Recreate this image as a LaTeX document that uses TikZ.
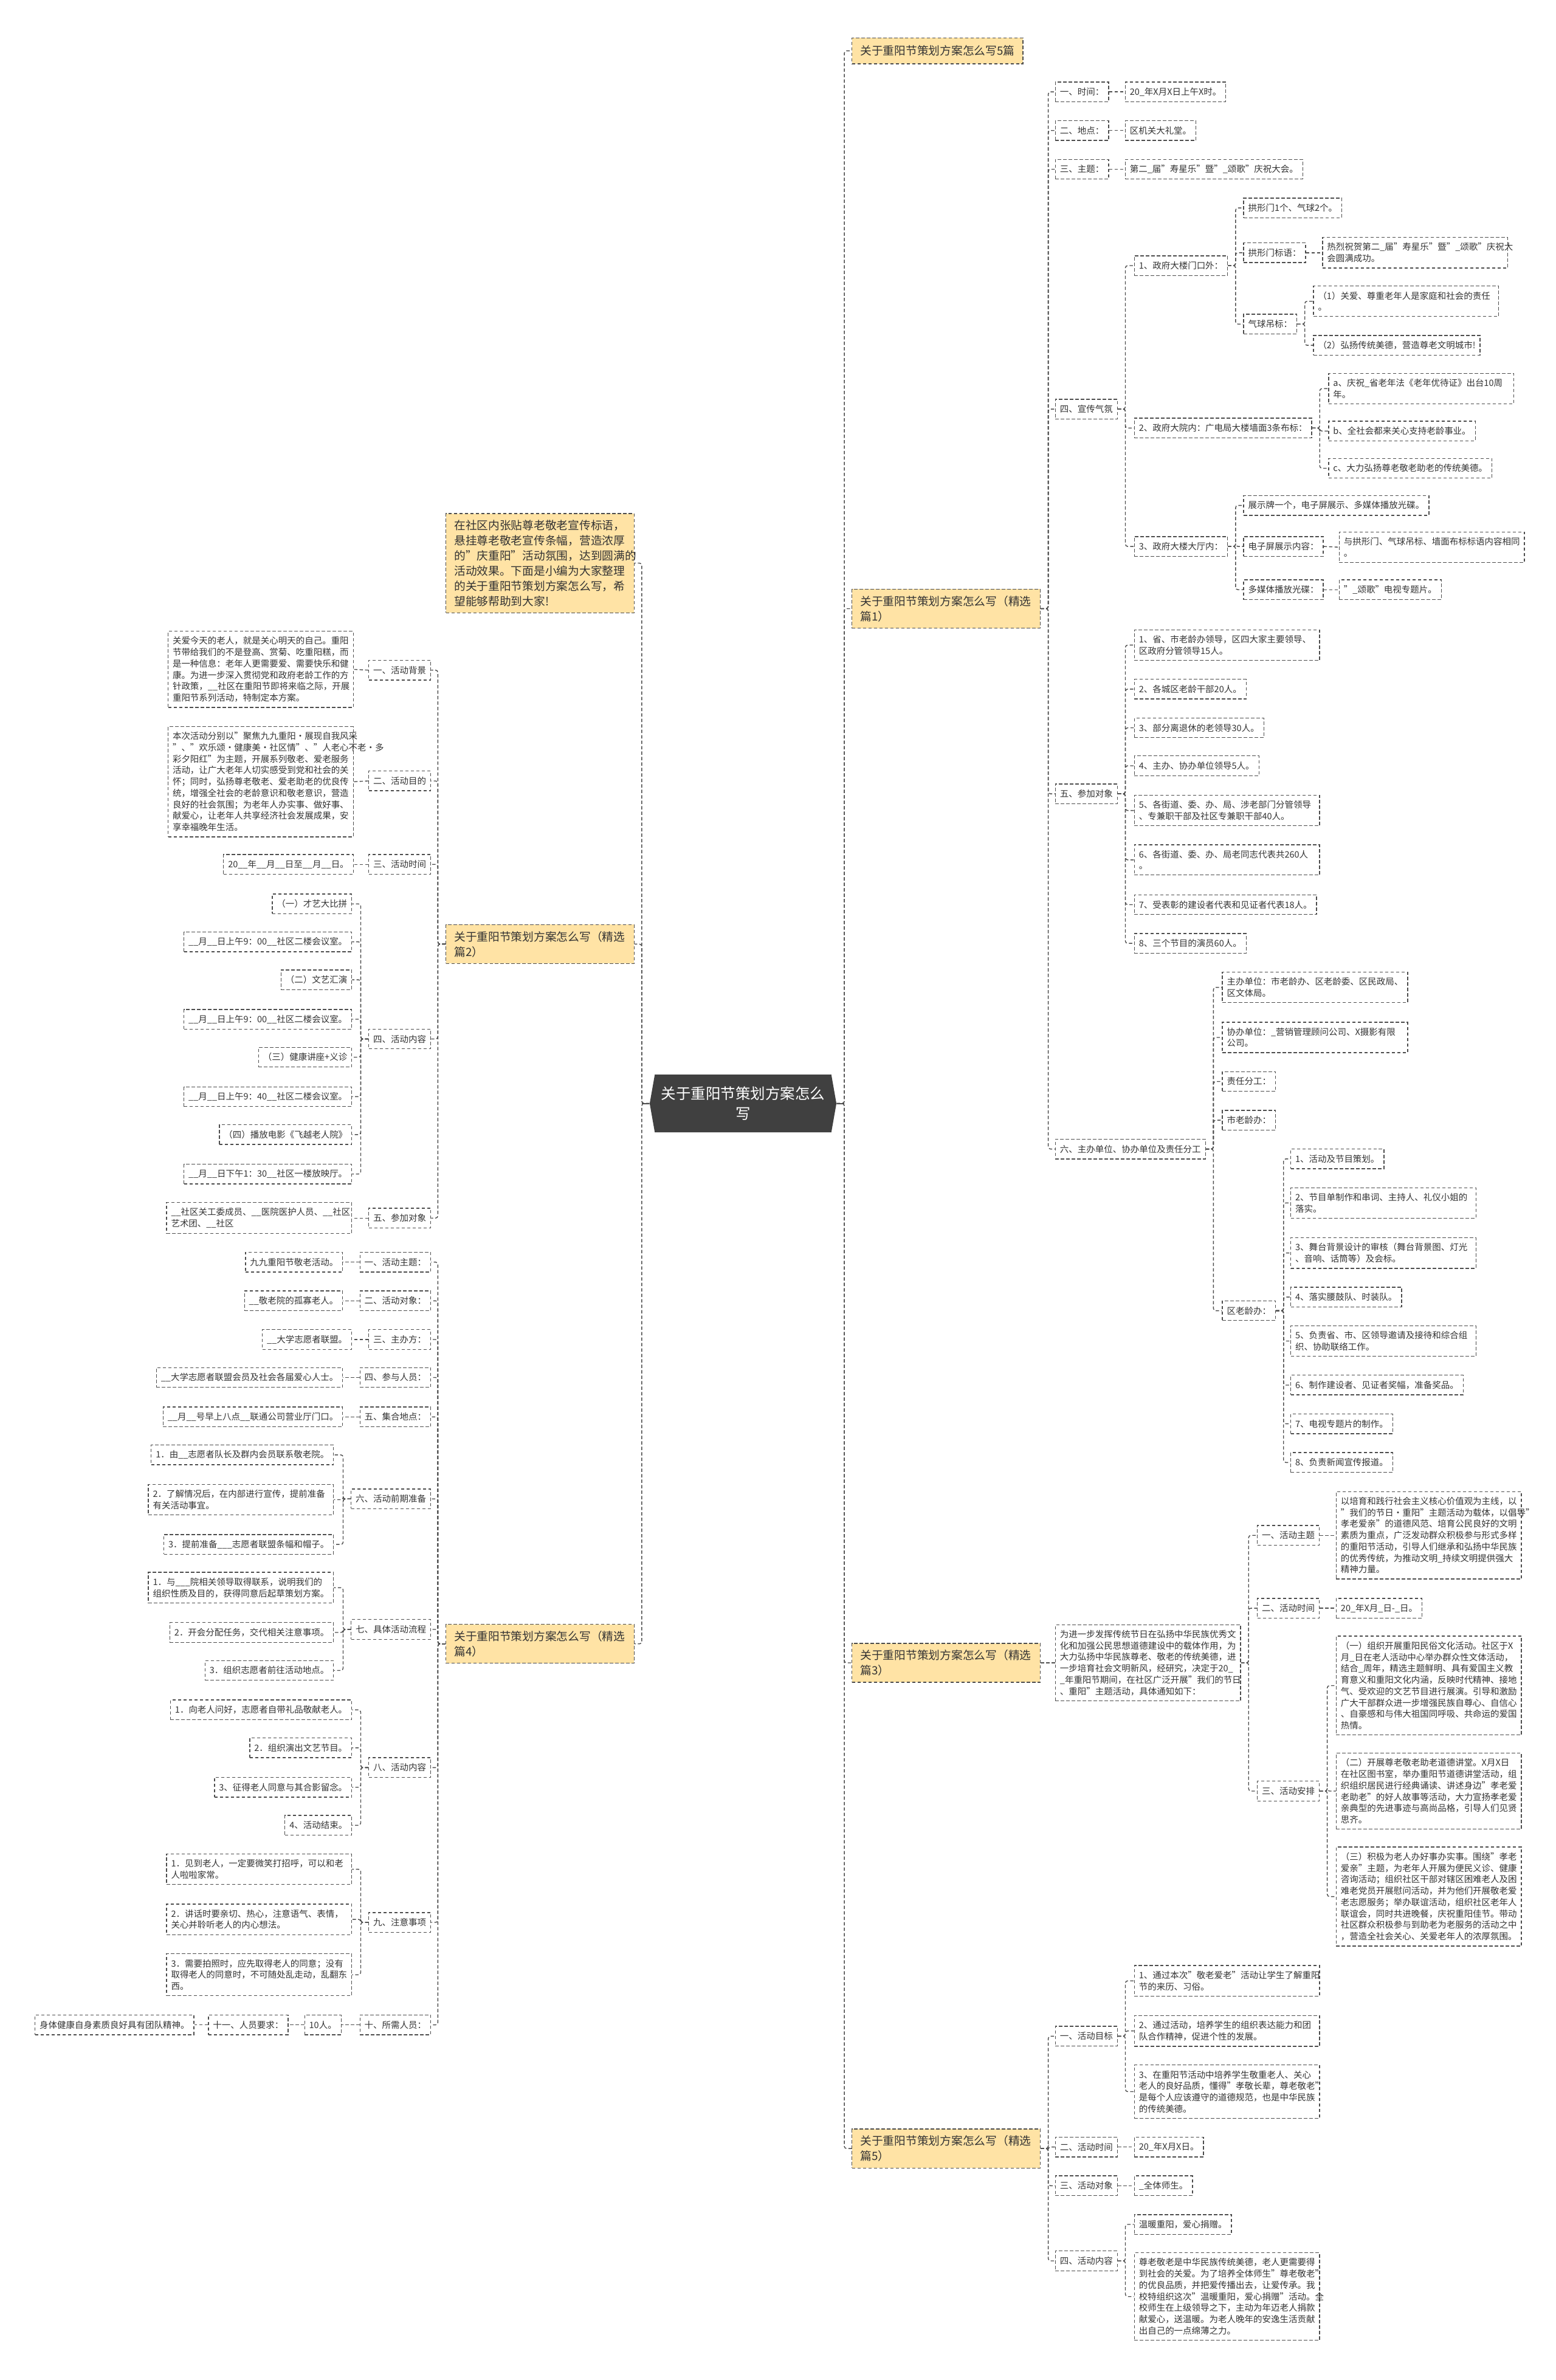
\documentclass[tikz,border=0pt]{standalone}
\usepackage{fontspec}
\setmainfont{Noto Sans CJK SC}
\usetikzlibrary{shapes.symbols}
\definecolor{linec}{HTML}{4D4D4D}
\definecolor{txtc}{HTML}{333333}
\definecolor{topicc}{HTML}{FFE3A5}
\definecolor{rootc}{HTML}{404040}

\begin{document}
\begin{tikzpicture}[x=1pt, y=-1pt,
  link/.style={draw=linec, line width=0.55pt, dash pattern=on 2.2pt off 1.4pt, rounded corners=1.5pt},
  leaf/.style={draw=linec, line width=0.55pt, dash pattern=on 2.2pt off 1.4pt, fill=white, text=txtc,
    font=\fontsize{5.8}{7.5}\selectfont, inner xsep=3pt, inner ysep=2pt, minimum height=13pt},
  note/.style={leaf, text width=116pt, align=left, inner ysep=3.6pt},
  topic/.style={leaf, fill=topicc, font=\fontsize{7.5}{10}\selectfont, inner xsep=5.5pt, inner ysep=4.25pt, minimum height=17pt},
  wide/.style={topic, text width=113pt, align=left},
  rootbox/.style={signal, signal to=west and east, signal pointer angle=160, fill=rootc, text=white,
    font=\fontsize{9.8}{13}\selectfont, minimum width=123pt, minimum height=38pt, inner sep=2pt, align=center},
]
\fill[white] (0,0) rectangle (1025,1568);
\useasboundingbox (0,0) rectangle (1025,1568);

% 中心
\node[rootbox] (root) at (489.5,727) {关于重阳节策划方案怎么\\写};

% 一级
\node[topic, anchor=west] (t0) at (561,33.5) {关于重阳节策划方案怎么写5篇};
\node[wide, anchor=west] (t1) at (561,401) {关于重阳节策划方案怎么写（精选\\篇1）};
\node[wide, anchor=west] (t3) at (561,1095.5) {关于重阳节策划方案怎么写（精选\\篇3）};
\node[wide, anchor=west] (t5) at (561,1415.5) {关于重阳节策划方案怎么写（精选\\篇5）};
\node[wide, anchor=east] (intro) at (418,371) {在社区内张贴尊老敬老宣传标语，\\悬挂尊老敬老宣传条幅，营造浓厚\\的"庆重阳"活动氛围，达到圆满的\\活动效果。下面是小编为大家整理\\的关于重阳节策划方案怎么写，希\\望能够帮助到大家!};
\node[wide, anchor=east] (t2) at (418,622) {关于重阳节策划方案怎么写（精选\\篇2）};
\node[wide, anchor=east] (t4) at (418,1083) {关于重阳节策划方案怎么写（精选\\篇4）};

\draw[linec, line width=0.7pt] (root.east) -- ++(5,0);
\draw[linec, line width=0.7pt] (root.west) -- ++(-5,0);
\foreach \t in {t0,t1,t3,t5} \draw[link] (root.east) -- ++(5,0) |- (\t.west);
\foreach \t in {intro,t2,t4} \draw[link] (root.west) -- ++(-5,0) |- (\t.east);

% 篇1
\node[leaf, anchor=west] (a1) at (695,60.5) {一、时间：};
\node[leaf, anchor=west] (v1) at (741,60.5) {20\_年X月X日上午X时。};
\node[leaf, anchor=west] (a2) at (695,86) {二、地点：};
\node[leaf, anchor=west] (v2) at (741,86) {区机关大礼堂。};
\node[leaf, anchor=west] (a3) at (695,111.5) {三、主题：};
\node[leaf, anchor=west] (v3) at (741,111.5) {第二\_届"寿星乐"暨"\_颂歌"庆祝大会。};
\node[leaf, anchor=west] (a4) at (695,269.5) {四、宣传气氛};
\node[leaf, anchor=west] (a5) at (695,523) {五、参加对象};
\node[leaf, anchor=west] (a6) at (695,757) {六、主办单位、协办单位及责任分工};
\foreach \c in {a1,a2,a3,a4,a5,a6} \draw[link] (t1.east) -- ++(5,0) |- (\c.west);
\foreach \a/\b in {a1/v1,a2/v2,a3/v3} \draw[link] (\a.east) -- (\b.west);

% 宣传气氛
\node[leaf, anchor=west] (b1) at (747,175) {1、政府大楼门口外：};
\node[leaf, anchor=west] (b2) at (747,282) {2、政府大院内：广电局大楼墙面3条布标：};
\node[leaf, anchor=west] (b3) at (747,360) {3、政府大楼大厅内：};
\foreach \c in {b1,b2,b3} \draw[link] (a4.east) -- ++(5,0) |- (\c.west);

\node[leaf, anchor=west] (c1) at (819,137) {拱形门1个、气球2个。};
\node[leaf, anchor=west] (c2) at (819,166.5) {拱形门标语：};
\node[note, anchor=west] (c2v) at (871,166.5) {热烈祝贺第二\_届"寿星乐"暨"\_颂歌"庆祝大\\会圆满成功。};
\node[leaf, anchor=west] (c3) at (819,213.5) {气球吊标：};
\node[note, anchor=west] (c31) at (865,198.5) {（1）关爱、尊重老年人是家庭和社会的责任\\。};
\node[leaf, anchor=west] (c32) at (865,227.5) {（2）弘扬传统美德，营造尊老文明城市!};
\foreach \c in {c1,c2,c3} \draw[link] (b1.east) -- ++(5,0) |- (\c.west);
\draw[link] (c2.east) -- (c2v.west);
\foreach \c in {c31,c32} \draw[link] (c3.east) -- ++(5,0) |- (\c.west);

\node[note, anchor=west] (d1) at (875,256) {a、庆祝\_省老年法《老年优待证》出台10周\\年。};
\node[leaf, anchor=west] (d2) at (875,284) {b、全社会都来关心支持老龄事业。};
\node[leaf, anchor=west] (d3) at (875,308.5) {c、大力弘扬尊老敬老助老的传统美德。};
\foreach \c in {d1,d2,d3} \draw[link] (b2.east) -- ++(5,0) |- (\c.west);

\node[leaf, anchor=west] (e1) at (819,333) {展示牌一个，电子屏展示、多媒体播放光碟。};
\node[leaf, anchor=west] (e2) at (819,360) {电子屏展示内容：};
\node[note, anchor=west] (e2v) at (882,360.5) {与拱形门、气球吊标、墙面布标标语内容相同\\。};
\node[leaf, anchor=west] (e3) at (819,388.5) {多媒体播放光碟：};
\node[leaf, anchor=west] (e3v) at (882,388.5) {"\_颂歌"电视专题片。};
\foreach \c in {e1,e2,e3} \draw[link] (b3.east) -- ++(5,0) |- (\c.west);
\foreach \a/\b in {e2/e2v,e3/e3v} \draw[link] (\a.east) -- (\b.west);

% 参加对象
\node[note, anchor=west] (f1) at (747,425) {1、省、市老龄办领导，区四大家主要领导、\\区政府分管领导15人。};
\node[leaf, anchor=west] (f2) at (747,454) {2、各城区老龄干部20人。};
\node[leaf, anchor=west] (f3) at (747,479.5) {3、部分离退休的老领导30人。};
\node[leaf, anchor=west] (f4) at (747,504.5) {4、主办、协办单位领导5人。};
\node[note, anchor=west] (f5) at (747,534) {5、各街道、委、办、局、涉老部门分管领导\\、专兼职干部及社区专兼职干部40人。};
\node[note, anchor=west] (f6) at (747,566.5) {6、各街道、委、办、局老同志代表共260人\\。};
\node[leaf, anchor=west] (f7) at (747,596) {7、受表彰的建设者代表和见证者代表18人。};
\node[leaf, anchor=west] (f8) at (747,621.5) {8、三个节目的演员60人。};
\foreach \c in {f1,f2,f3,f4,f5,f6,f7,f8} \draw[link] (a5.east) -- ++(5,0) |- (\c.west);

% 分工
\node[note, anchor=west] (g1) at (805,650.5) {主办单位：市老龄办、区老龄委、区民政局、\\区文体局。};
\node[note, anchor=west] (g2) at (805,683.5) {协办单位：\_营销管理顾问公司、X摄影有限\\公司。};
\node[leaf, anchor=west] (g3) at (805,712.5) {责任分工：};
\node[leaf, anchor=west] (g4) at (805,738) {市老龄办：};
\node[leaf, anchor=west] (g5) at (805,863.5) {区老龄办：};
\foreach \c in {g1,g2,g3,g4,g5} \draw[link] (a6.east) -- ++(5,0) |- (\c.west);

\node[leaf, anchor=west] (h1) at (850,763.5) {1、活动及节目策划。};
\node[note, anchor=west] (h2) at (850,792.5) {2、节目单制作和串词、主持人、礼仪小姐的\\落实。};
\node[note, anchor=west] (h3) at (850,825.5) {3、舞台背景设计的审核（舞台背景图、灯光\\、音响、话筒等）及会标。};
\node[leaf, anchor=west] (h4) at (850,854.5) {4、落实腰鼓队、时装队。};
\node[note, anchor=west] (h5) at (850,883.5) {5、负责省、市、区领导邀请及接待和综合组\\织、协助联络工作。};
\node[leaf, anchor=west] (h6) at (850,912.5) {6、制作建设者、见证者奖幅，准备奖品。};
\node[leaf, anchor=west] (h7) at (850,938) {7、电视专题片的制作。};
\node[leaf, anchor=west] (h8) at (850,963.5) {8、负责新闻宣传报道。};
\foreach \c in {h1,h2,h3,h4,h5,h6,h7,h8} \draw[link] (g5.east) -- ++(5,0) |- (\c.west);

% 篇3
\node[note, anchor=west] (i0) at (695,1095.5) {为进一步发挥传统节日在弘扬中华民族优秀文\\化和加强公民思想道德建设中的载体作用，为\\大力弘扬中华民族尊老、敬老的传统美德，进\\一步培育社会文明新风，经研究，决定于20\_\\\_年重阳节期间，在社区广泛开展"我们的节日\\、重阳"主题活动，具体通知如下：};
\draw[link] (t3.east) -- (i0.west);
\node[leaf, anchor=west] (i1) at (828,1011.5) {一、活动主题};
\node[note, anchor=west] (i1v) at (880,1011.5) {以培育和践行社会主义核心价值观为主线，以\\"我们的节日·重阳"主题活动为载体，以倡导"\\孝老爱亲"的道德风范、培育公民良好的文明\\素质为重点，广泛发动群众积极参与形式多样\\的重阳节活动，引导人们继承和弘扬中华民族\\的优秀传统，为推动文明\_持续文明提供强大\\精神力量。};
\node[leaf, anchor=west] (i2) at (828,1059.5) {二、活动时间};
\node[leaf, anchor=west] (i2v) at (880,1059.5) {20\_年X月\_日-\_日。};
\node[leaf, anchor=west] (i3) at (828,1180) {三、活动安排};
\foreach \c in {i1,i2,i3} \draw[link] (i0.east) -- ++(5,0) |- (\c.west);
\foreach \a/\b in {i1/i1v,i2/i2v} \draw[link] (\a.east) -- (\b.west);

\node[note, anchor=west] (j1) at (880,1110.5) {（一）组织开展重阳民俗文化活动。社区于X\\月\_日在老人活动中心举办群众性文体活动，\\结合\_周年，精选主题鲜明、具有爱国主义教\\育意义和重阳文化内涵，反映时代精神、接地\\气、受欢迎的文艺节目进行展演。引导和激励\\广大干部群众进一步增强民族自尊心、自信心\\、自豪感和与伟大祖国同呼吸、共命运的爱国\\热情。};
\node[note, anchor=west] (j2) at (880,1180) {（二）开展尊老敬老助老道德讲堂。X月X日\\在社区图书室，举办重阳节道德讲堂活动，组\\织组织居民进行经典诵读、讲述身边"孝老爱\\老助老"的好人故事等活动，大力宣扬孝老爱\\亲典型的先进事迹与高尚品格，引导人们见贤\\思齐。};
\node[note, anchor=west] (j3) at (880,1249.5) {（三）积极为老人办好事办实事。围绕"孝老\\爱亲"主题，为老年人开展为便民义诊、健康\\咨询活动；组织社区干部对辖区困难老人及困\\难老党员开展慰问活动，并为他们开展敬老爱\\老志愿服务；举办联谊活动，组织社区老年人\\联谊会，同时共进晚餐，庆祝重阳佳节。带动\\社区群众积极参与到助老为老服务的活动之中\\，营造全社会关心、关爱老年人的浓厚氛围。};
\foreach \c in {j1,j2,j3} \draw[link] (i3.east) -- ++(5,0) |- (\c.west);

% 篇5
\node[leaf, anchor=west] (k1) at (695,1341.5) {一、活动目标};
\node[leaf, anchor=west] (k2) at (695,1414.5) {二、活动时间};
\node[leaf, anchor=west] (k2v) at (747,1414.5) {20\_年X月X日。};
\node[leaf, anchor=west] (k3) at (695,1440) {三、活动对象};
\node[leaf, anchor=west] (k3v) at (747,1440) {\_全体师生。};
\node[leaf, anchor=west] (k4) at (695,1489.5) {四、活动内容};
\foreach \c in {k1,k2,k3,k4} \draw[link] (t5.east) -- ++(5,0) |- (\c.west);
\foreach \a/\b in {k2/k2v,k3/k3v} \draw[link] (\a.east) -- (\b.west);

\node[note, anchor=west] (k11) at (747,1305) {1、通过本次"敬老爱老"活动让学生了解重阳\\节的来历、习俗。};
\node[note, anchor=west] (k12) at (747,1338) {2、通过活动，培养学生的组织表达能力和团\\队合作精神，促进个性的发展。};
\node[note, anchor=west] (k13) at (747,1378) {3、在重阳节活动中培养学生敬重老人、关心\\老人的良好品质，懂得"孝敬长辈，尊老敬老"\\是每个人应该遵守的道德规范，也是中华民族\\的传统美德。};
\foreach \c in {k11,k12,k13} \draw[link] (k1.east) -- ++(5,0) |- (\c.west);
\node[leaf, anchor=west] (k41) at (747,1465.5) {温暖重阳，爱心捐赠。};
\node[note, anchor=west] (k42) at (747,1513) {尊老敬老是中华民族传统美德，老人更需要得\\到社会的关爱。为了培养全体师生"尊老敬老"\\的优良品质，并把爱传播出去，让爱传承。我\\校特组织这次"温暖重阳，爱心捐赠"活动。全\\校师生在上级领导之下，主动为年迈老人捐款\\献爱心，送温暖。为老人晚年的安逸生活贡献\\出自己的一点绵薄之力。};
\foreach \c in {k41,k42} \draw[link] (k4.east) -- ++(5,0) |- (\c.west);

% 篇2
\node[leaf, anchor=east] (l1) at (284,441.5) {一、活动背景};
\node[note, anchor=east] (l1v) at (233,441) {关爱今天的老人，就是关心明天的自己。重阳\\节带给我们的不是登高、赏菊、吃重阳糕，而\\是一种信息：老年人更需要爱、需要快乐和健\\康。为进一步深入贯彻党和政府老龄工作的方\\针政策，\_\_社区在重阳节即将来临之际，开展\\重阳节系列活动，特制定本方案。};
\node[leaf, anchor=east] (l2) at (284,514.5) {二、活动目的};
\node[note, anchor=east] (l2v) at (233,515) {本次活动分别以"聚焦九九重阳·展现自我风采\\"、"欢乐颂·健康美·社区情"、"人老心不老·多\\彩夕阳红"为主题，开展系列敬老、爱老服务\\活动，让广大老年人切实感受到党和社会的关\\怀；同时，弘扬尊老敬老、爱老助老的优良传\\统，增强全社会的老龄意识和敬老意识，营造\\良好的社会氛围；为老年人办实事、做好事、\\献爱心，让老年人共享经济社会发展成果，安\\享幸福晚年生活。};
\node[leaf, anchor=east] (l3) at (284,569.5) {三、活动时间};
\node[leaf, anchor=east] (l3v) at (233,569.5) {20\_\_年\_\_月\_\_日至\_\_月\_\_日。};
\node[leaf, anchor=east] (l4) at (284,684.5) {四、活动内容};
\node[leaf, anchor=east] (l5) at (284,802.5) {五、参加对象};
\node[note, anchor=east] (l5v) at (232,802.5) {\_\_社区关工委成员、\_\_医院医护人员、\_\_社区\\艺术团、\_\_社区};
\foreach \c in {l1,l2,l3,l4,l5} \draw[link] (t2.west) -- ++(-5,0) |- (\c.east);
\foreach \a/\b in {l1/l1v,l2/l2v,l3/l3v,l5/l5v} \draw[link] (\a.west) -- (\b.east);

\node[leaf, anchor=east] (m1) at (232,595.5) {（一）才艺大比拼};
\node[leaf, anchor=east] (m2) at (232,620.5) {\_\_月\_\_日上午9：00\_\_社区二楼会议室。};
\node[leaf, anchor=east] (m3) at (232,645.5) {（二）文艺汇演};
\node[leaf, anchor=east] (m4) at (232,671.5) {\_\_月\_\_日上午9：00\_\_社区二楼会议室。};
\node[leaf, anchor=east] (m5) at (232,696.5) {（三）健康讲座+义诊};
\node[leaf, anchor=east] (m6) at (232,722.5) {\_\_月\_\_日上午9：40\_\_社区二楼会议室。};
\node[leaf, anchor=east] (m7) at (232,747.5) {（四）播放电影《飞越老人院》};
\node[leaf, anchor=east] (m8) at (232,773.5) {\_\_月\_\_日下午1：30\_\_社区一楼放映厅。};
\foreach \c in {m1,m2,m3,m4,m5,m6,m7,m8} \draw[link] (l4.west) -- ++(-5,0) |- (\c.east);

% 篇4
\node[leaf, anchor=east] (n1) at (284,831.5) {一、活动主题：};
\node[leaf, anchor=east] (n1v) at (226,831.5) {九九重阳节敬老活动。};
\node[leaf, anchor=east] (n2) at (284,857) {二、活动对象：};
\node[leaf, anchor=east] (n2v) at (226,857) {\_\_敬老院的孤寡老人。};
\node[leaf, anchor=east] (n3) at (284,882.5) {三、主办方：};
\node[leaf, anchor=east] (n3v) at (232,882.5) {\_\_大学志愿者联盟。};
\node[leaf, anchor=east] (n4) at (284,907.5) {四、参与人员：};
\node[leaf, anchor=east] (n4v) at (226,907.5) {\_\_大学志愿者联盟会员及社会各届爱心人士。};
\node[leaf, anchor=east] (n5) at (284,933.5) {五、集合地点：};
\node[leaf, anchor=east] (n5v) at (226,933.5) {\_\_月\_\_号早上八点\_\_联通公司营业厅门口。};
\node[leaf, anchor=east] (n6) at (284,987.5) {六、活动前期准备};
\node[leaf, anchor=east] (n7) at (284,1073.5) {七、具体活动流程};
\node[leaf, anchor=east] (n8) at (284,1164.5) {八、活动内容};
\node[leaf, anchor=east] (n9) at (284,1266.5) {九、注意事项};
\node[leaf, anchor=east] (n10) at (284,1334) {十、所需人员：};
\node[leaf, anchor=east] (n10v) at (225,1334) {10人。};
\node[leaf, anchor=east] (n11) at (190,1334) {十一、人员要求：};
\node[leaf, anchor=east] (n11v) at (128,1334) {身体健康自身素质良好具有团队精神。};
\foreach \c in {n1,n2,n3,n4,n5,n6,n7,n8,n9,n10} \draw[link] (t4.west) -- ++(-5,0) |- (\c.east);
\foreach \a/\b in {n1/n1v,n2/n2v,n3/n3v,n4/n4v,n5/n5v,n10/n10v,n10v/n11,n11/n11v} \draw[link] (\a.west) -- (\b.east);

\node[leaf, anchor=east] (o1) at (220,958.5) {1．由\_\_志愿者队长及群内会员联系敬老院。};
\node[note, anchor=east] (o2) at (220,988) {2．了解情况后，在内部进行宣传，提前准备\\有关活动事宜。};
\node[leaf, anchor=east] (o3) at (220,1017.5) {3．提前准备\_\_\_志愿者联盟条幅和帽子。};
\foreach \c in {o1,o2,o3} \draw[link] (n6.west) -- ++(-5,0) |- (\c.east);
\node[note, anchor=east] (o4) at (220,1046) {1．与\_\_\_院相关领导取得联系，说明我们的\\组织性质及目的，获得同意后起草策划方案。};
\node[leaf, anchor=east] (o5) at (220,1075.5) {2．开会分配任务，交代相关注意事项。};
\node[leaf, anchor=east] (o6) at (220,1100.5) {3．组织志愿者前往活动地点。};
\foreach \c in {o4,o5,o6} \draw[link] (n7.west) -- ++(-5,0) |- (\c.east);
\node[leaf, anchor=east] (o7) at (232,1126.5) {1．向老人问好，志愿者自带礼品敬献老人。};
\node[leaf, anchor=east] (o8) at (232,1151.5) {2．组织演出文艺节目。};
\node[leaf, anchor=east] (o9) at (232,1177.5) {3、征得老人同意与其合影留念。};
\node[leaf, anchor=east] (o10) at (232,1202.5) {4、活动结束。};
\foreach \c in {o7,o8,o9,o10} \draw[link] (n8.west) -- ++(-5,0) |- (\c.east);
\node[note, anchor=east] (o11) at (232,1231.5) {1．见到老人，一定要微笑打招呼，可以和老\\人啦啦家常。};
\node[note, anchor=east] (o12) at (232,1264.5) {2．讲话时要亲切、热心，注意语气、表情，\\关心并聆听老人的内心想法。};
\node[note, anchor=east] (o13) at (232,1301) {3．需要拍照时，应先取得老人的同意；没有\\取得老人的同意时，不可随处乱走动，乱翻东\\西。};
\foreach \c in {o11,o12,o13} \draw[link] (n9.west) -- ++(-5,0) |- (\c.east);
\end{tikzpicture}
\end{document}
